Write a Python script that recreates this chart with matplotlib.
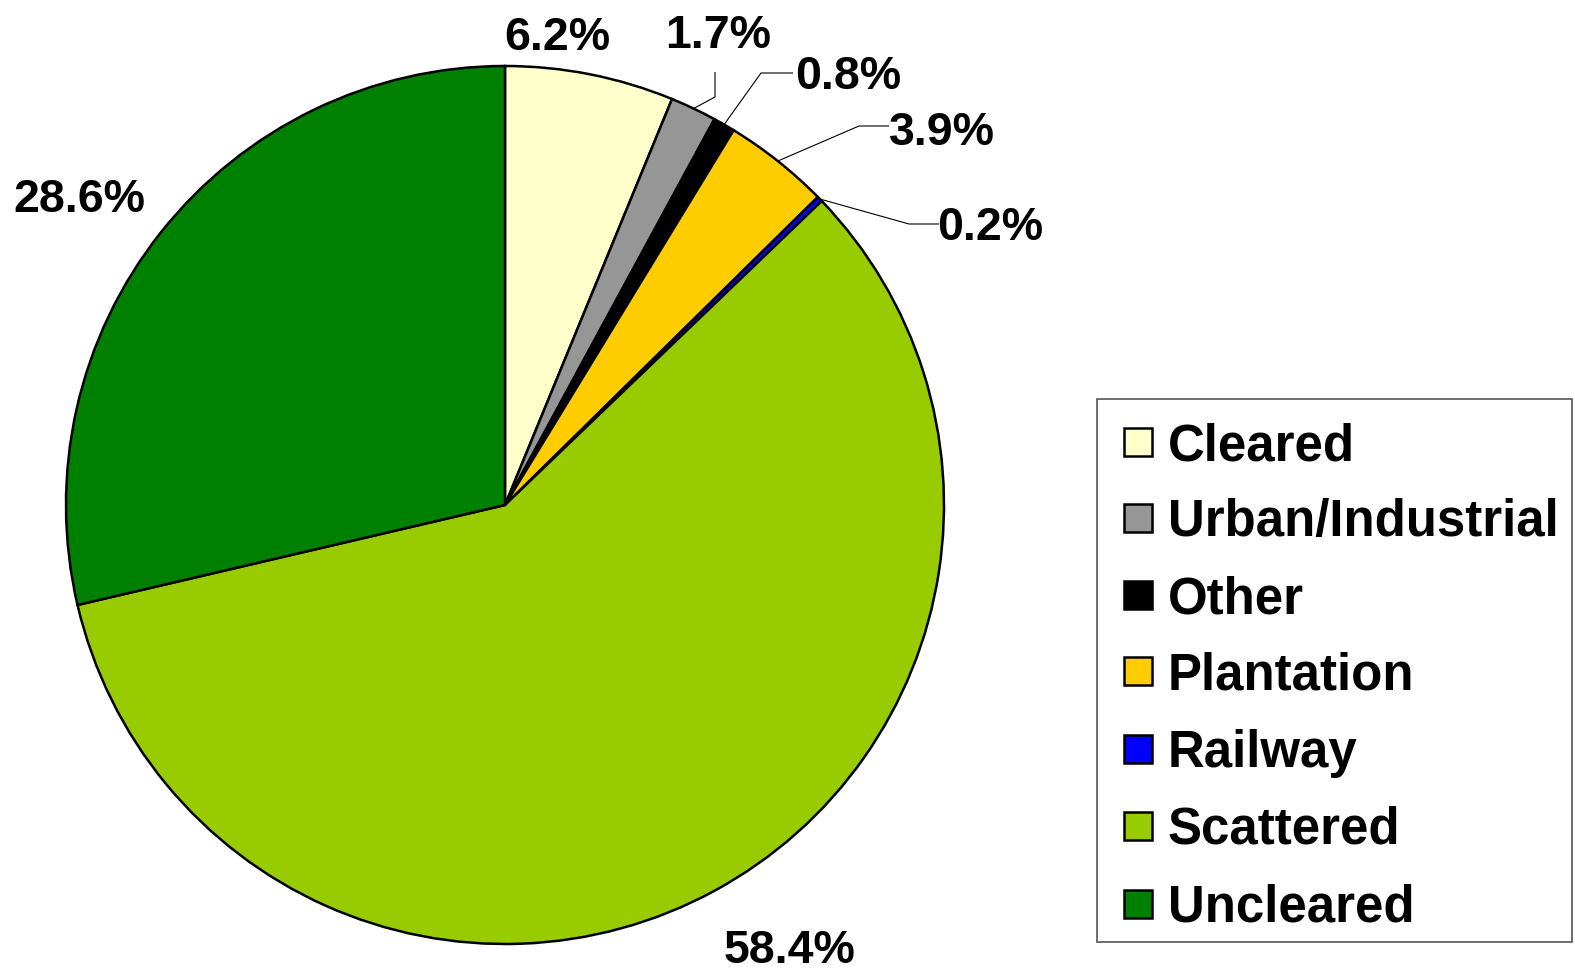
import matplotlib.pyplot as plt
from matplotlib.patches import Rectangle
import numpy as np

categories = ['Cleared', 'Urban/Industrial', 'Other', 'Plantation', 'Railway', 'Scattered', 'Uncleared']
values = [6.2, 1.7, 0.8, 3.9, 0.2, 58.4, 28.6]
colors = ['#FFFFCC', '#969696', '#000000', '#FFCC00', '#0000FF', '#99CC00', '#008000']
labels = ['6.2%', '1.7%', '0.8%', '3.9%', '0.2%', '58.4%', '28.6%']

plt.rcParams['font.family'] = ['Liberation Sans', 'DejaVu Sans']

W, H = 1575, 969
fig = plt.figure(figsize=(W / 100, H / 100), dpi=100)
ax = fig.add_axes([0, 0, 1, 1])

def Y(y):
    return H - y

cx, cy, R = 505, Y(505), 439
wedges, _ = ax.pie(values, colors=colors, startangle=90, counterclock=False,
                   center=(cx, cy), radius=R, frame=True,
                   wedgeprops=dict(edgecolor='black', linewidth=1.8))
ax.set_xlim(0, W)
ax.set_ylim(0, H)
ax.set_aspect('auto')
ax.axis('off')

# label text positions (pixel: center x, baseline y) and leader line elbows
label_pos = [(557, 50), (718, 48), (848, 89), (942, 145), (990, 240), (790, 963), (79, 212)]
leaders = {
    1: [(715, 97), (715, 72)],
    2: [(761, 73), (793, 73)],
    3: [(859, 126), (889, 126)],
    4: [(909, 224), (939, 224)],
}

for i, (w, lab) in enumerate(zip(wedges, labels)):
    tx, ty = label_pos[i]
    ax.text(tx, Y(ty), lab, ha='center', va='baseline', fontsize=33.5,
            fontweight='bold', color='black')
    if i in leaders:
        mid = np.deg2rad((w.theta1 + w.theta2) / 2)
        ax0 = cx + R * np.cos(mid)
        ay0 = cy + R * np.sin(mid)
        pts = [(ax0, ay0)] + [(px, Y(py)) for px, py in leaders[i]]
        xs, ys = zip(*pts)
        ax.plot(xs, ys, color='black', lw=0.8, solid_capstyle='butt')

# legend (manual)
ax.add_patch(Rectangle((1097, Y(942)), 1572 - 1097, 942 - 399, facecolor='white',
                       edgecolor='#555555', lw=1.2))
row_y = [442, 518, 595, 671, 749, 826, 904]
for cat, col, ry in zip(categories, colors, row_y):
    ax.add_patch(Rectangle((1124, Y(ry + 14)), 28, 28, facecolor=col,
                           edgecolor='black', lw=1.8))
    ax.text(1168, Y(ry + 18), cat, ha='left', va='baseline', fontsize=36.7,
            fontweight='bold', color='black')

fig.savefig('out.png', dpi=100)
